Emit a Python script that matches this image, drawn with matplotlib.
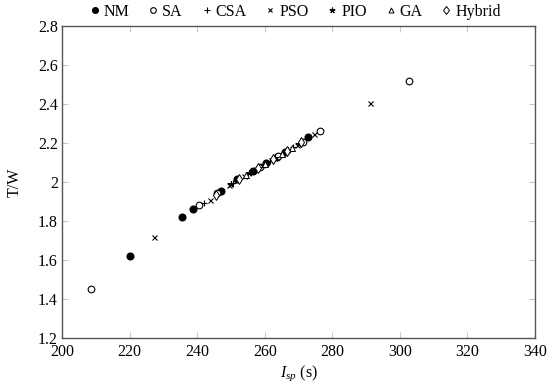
import matplotlib
matplotlib.use("Agg")
import matplotlib.pyplot as plt

# === 字体 ===
plt.rcParams['font.family'] = ['Liberation Serif', 'DejaVu Serif']
plt.rcParams['mathtext.fontset'] = 'custom'
plt.rcParams['mathtext.rm'] = 'Liberation Serif'
plt.rcParams['mathtext.it'] = 'Liberation Serif:italic'

# === 数据 (Isp [s], T/W) ===
nm_isp = [220.2, 235.5, 238.8, 247.2, 251.8, 256.5, 260.5, 263.5, 266.0, 272.7]
nm_tw = [1.62, 1.82, 1.86, 1.955, 2.015, 2.057, 2.098, 2.129, 2.154, 2.23]

sa_isp = [208.5, 240.5, 246.0, 258.5, 264.0, 271.4, 276.3, 302.8]
sa_tw = [1.45, 1.88, 1.945, 2.078, 2.134, 2.205, 2.263, 2.52]

csa_isp = [242.1, 250.5, 257.0, 261.5, 265.5, 268.5]
csa_tw = [1.894, 1.995, 2.062, 2.108, 2.149, 2.18]

pso_isp = [227.3, 243.7, 249.5, 253.8, 262.0, 269.5, 274.6, 291.1]
pso_tw = [1.72, 1.91, 1.985, 2.03, 2.113, 2.19, 2.245, 2.405]

pio_isp = [249.9, 255.5, 259.5, 263.0, 267.0, 270.2]
pio_tw = [1.99, 2.047, 2.088, 2.124, 2.164, 2.195]

ga_isp = [254.5, 260.0, 265.0, 268.0]
ga_tw = [2.037, 2.093, 2.144, 2.175]

hyb_isp = [245.5, 252.5, 258.0, 262.5, 266.5, 270.8]
hyb_tw = [1.935, 2.017, 2.073, 2.118, 2.159, 2.203]

x_ticks = [200, 220, 240, 260, 280, 300, 320, 340]
y_ticks = [1.2, 1.4, 1.6, 1.8, 2.0, 2.2, 2.4, 2.6, 2.8]
y_labels = ['1.2', '1.4', '1.6', '1.8', '2', '2.2', '2.4', '2.6', '2.8']

fig = plt.figure(figsize=(5.5, 3.85), dpi=100)
ax = fig.add_axes([0.1127, 0.122, 0.86, 0.8105])

series = [
    ('NM', nm_isp, nm_tw, dict(marker='o', ms=4.8, mfc='black', mec='black')),
    ('SA', sa_isp, sa_tw, dict(marker='o', ms=4.8, mfc='white', mec='black', mew=0.8)),
    ('CSA', csa_isp, csa_tw, dict(marker='+', ms=4.8, mec='black', mew=0.8)),
    ('PSO', pso_isp, pso_tw, dict(marker='x', ms=3.6, mec='black', mew=0.8)),
    ('PIO', pio_isp, pio_tw, dict(marker=(5, 2, 0), ms=4.8, mec='black', mew=0.8)),
    ('GA', ga_isp, ga_tw, dict(marker='^', ms=4.2, mfc='white', mec='black', mew=0.7)),
    ('Hybrid', hyb_isp, hyb_tw, dict(marker='d', ms=5.0, mfc='white', mec='black', mew=0.7)),
]
for name, xs, ys, style in series:
    ax.plot(xs, ys, linestyle='none', label=name, **style)

ax.set_xlim(200, 340)
ax.set_ylim(1.2, 2.8)
ax.set_xticks(x_ticks)
ax.set_yticks(y_ticks)
ax.set_yticklabels(y_labels)
ax.tick_params(direction='in', length=4, color='#c8c8c8', labelsize=11.5,
               top=True, right=True)
ax.tick_params(axis='x', pad=4)
ax.tick_params(axis='y', pad=3)
for sp in ax.spines.values():
    sp.set_color('#555555')
    sp.set_linewidth(1.0)

ax.set_xlabel(r'$I_{sp}$ (s)', fontsize=11.5, labelpad=3)
ax.set_ylabel('T/W', fontsize=11.5, labelpad=11)

ax.legend(loc='center', bbox_to_anchor=(0.537, 0.969), bbox_transform=fig.transFigure,
          ncol=7, frameon=False, fontsize=11.5, handlelength=0.6, handletextpad=0.25,
          columnspacing=1.2, markerscale=0.85)

fig.savefig('out.png', dpi=100)
